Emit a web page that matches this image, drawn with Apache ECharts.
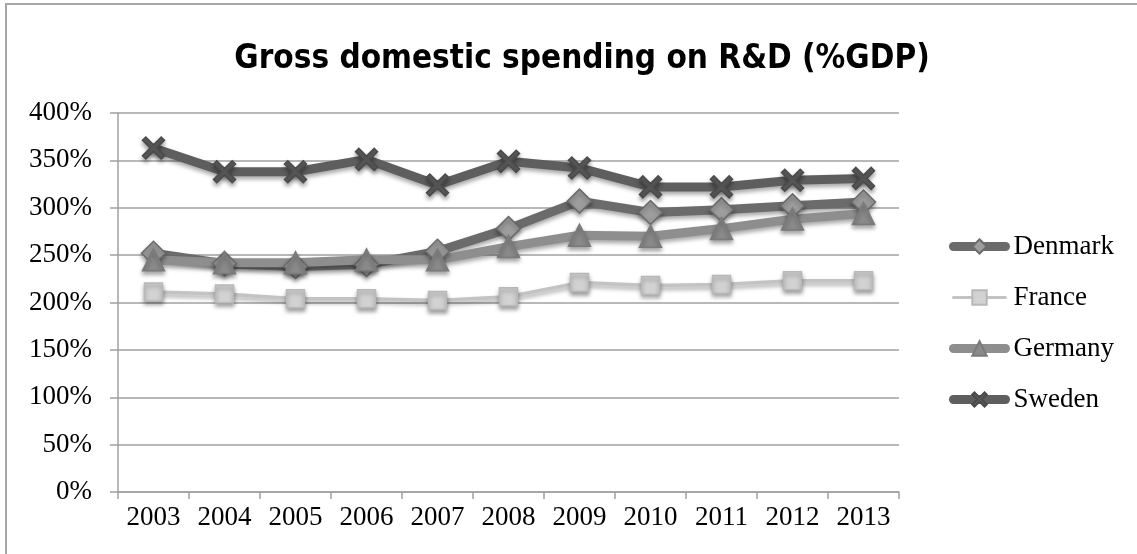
<!DOCTYPE html>
<html><head><meta charset="utf-8">
<script src="https://cdn.jsdelivr.net/npm/echarts@6/dist/echarts.min.js"></script>
<style>html,body{margin:0;padding:0;background:#fff}#c{width:1137px;height:554px}</style>
</head><body><div id="c"></div>
<script>
const years = ['2003','2004','2005','2006','2007','2008','2009','2010','2011','2012','2013'];
const denmark = [252, 241, 238, 240, 254, 278, 307, 295, 298, 302, 306];
const france  = [211, 209, 204, 204, 202, 206, 221, 218, 219, 223, 223];
const germany = [245, 242, 242, 245, 245, 259, 271, 270, 278, 288, 294];
const sweden  = [363, 338, 338, 351, 324, 349, 342, 322, 322, 329, 331];
const yTicks = [0, 50, 100, 150, 200, 250, 300, 350, 400];

const serif = 'Liberation Serif';
const xPath = 'path://M0,3 L3,0 L10,7 L17,0 L20,3 L13,10 L20,17 L17,20 L10,13 L3,20 L0,17 L7,10 Z';
const shadow = {shadowColor:'rgba(0,0,0,0.35)', shadowBlur:4, shadowOffsetY:3};

function mk(name, data, color, width, symbol, size, fill, border){
  return {
    name, type:'line', data, symbol, symbolSize:size, z: 2,
    lineStyle:Object.assign({color, width, cap:'round', join:'round'}, shadow),
    itemStyle:Object.assign({color:fill, borderColor:border, borderWidth:1.5}, shadow),
    emphasis:{disabled:true}
  };
}

const chart = echarts.init(document.getElementById('c'), null, {renderer:'canvas'});
chart.setOption({
  animation:false,
  backgroundColor:'#fff',
  graphic:[{type:'rect', shape:{x:6,y:4,width:1140,height:560}, style:{fill:'none', stroke:'#a6a6a6', lineWidth:2}}],
  title:{text:'Gross domestic spending on R&D (%GDP)', left:577, textAlign:'center', top:38,
    textStyle:{fontFamily:'DejaVu Sans Condensed', fontWeight:'bold', fontSize:33, color:'#000'}},
  grid:{left:118, right:238, top:113, bottom:62},
  xAxis:{type:'category', data:years, boundaryGap:true,
    axisLine:{lineStyle:{color:'#a0a0a0', width:1.5}},
    axisTick:{show:true, length:7, lineStyle:{color:'#a0a0a0', width:1.5}},
    axisLabel:{fontFamily:serif, fontSize:27, color:'#000', margin:12}},
  yAxis:{type:'value', min:0, max:400, interval:50,
    axisLine:{show:true, lineStyle:{color:'#a0a0a0', width:1.5}},
    axisTick:{show:true, length:8, inside:false, lineStyle:{color:'#a0a0a0', width:1.5}},
    splitLine:{lineStyle:{color:'#a0a0a0', width:1.5}},
    axisLabel:{fontFamily:serif, fontSize:27, color:'#000', margin:26, formatter: v => v + '%',
      customValues: yTicks}},
  legend:{orient:'vertical', left:944, top:228, itemGap:24, itemWidth:52, itemHeight:18,
    textStyle:{fontFamily:serif, fontSize:27, color:'#000', padding:[0,0,0,3]},
    data:[
      {name:'Denmark', lineStyle:{width:9}},
      {name:'France', lineStyle:{width:3}},
      {name:'Germany', lineStyle:{width:9}},
      {name:'Sweden', lineStyle:{width:9}}
    ]},
  series:[
    mk('Denmark', denmark, '#6b6b6b', 9, 'diamond', 24, '#9d9d9d', '#6b6b6b'),
    mk('France', france, '#c3c3c3', 3.5, 'rect', 18, '#d2d2d2', '#b8b8b8'),
    mk('Germany', germany, '#8e8e8e', 9, 'triangle', 22, '#8a8a8a', '#7a7a7a'),
    mk('Sweden', sweden, '#5e5e5e', 9, xPath, 22, '#5e5e5e', '#4a4a4a')
  ]
});
</script></body></html>
